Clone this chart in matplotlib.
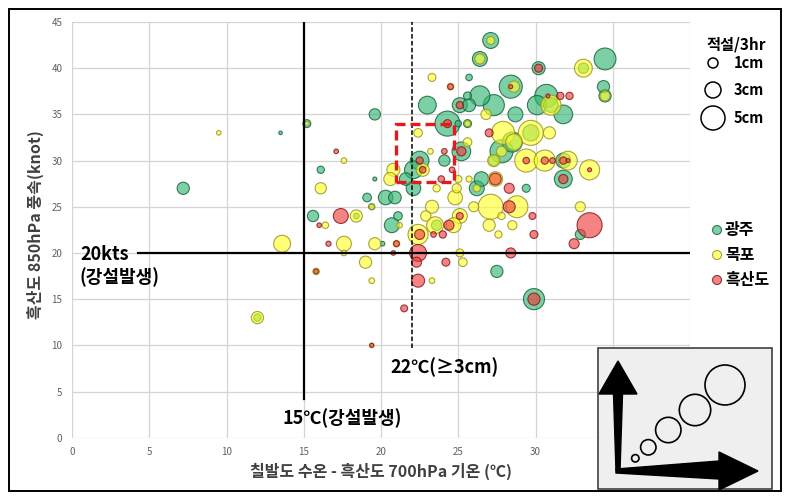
import matplotlib
matplotlib.use("Agg")
import matplotlib.pyplot as plt
from matplotlib.patches import Circle, Rectangle, Polygon
import numpy as np

plt.rcParams['font.family'] = ['Noto Sans CJK KR', 'DejaVu Sans']

# ---- data: (SST at Chilbaldo - T700 at Heuksando, 850hPa wind speed, 3-hr snowfall in cm)
gj_x = [7.2, 13.5, 15.2, 19.6, 16.1, 19.6, 19.1, 20.3, 20.9, 15.6, 21.1, 20.7, 20.1, 19.4, 12.0,
        27.1, 26.4, 25.7, 28.4, 23.0, 25.1, 25.7, 26.4, 27.3, 25.6, 28.7, 24.3, 25.0, 25.6, 28.5,
        25.2, 24.1, 27.8, 22.5, 22.1, 22.1, 34.5, 30.2, 34.4, 34.5, 30.7, 31.8, 30.1, 31.8, 31.8,
        29.4, 32.9, 29.9, 27.5, 26.5, 26.2, 29.7, 31.0, 27.3, 23.6, 18.4, 33.1, 21.6]
gj_y = [27, 33, 34, 35, 29, 28, 26, 26, 26, 24, 24, 23, 21, 25, 13,
        43, 41, 39, 38, 36, 36, 36, 37, 36, 37, 35, 34, 34, 34, 32,
        31, 30, 31, 30, 29, 27, 41, 40, 38, 37, 37, 35, 36, 30, 28,
        27, 22, 15, 18, 28, 27, 33, 36, 30, 23, 24, 40, 28]
gj_snow = [1.4, 0.12, 0.6, 1.2, 0.5, 0.15, 0.7, 2.0, 1.5, 1.2, 0.7, 2.1, 0.2, 0.35, 0.5,
           2.4, 2.1, 0.4, 5.0, 3.0, 2.1, 1.6, 3.8, 4.2, 0.6, 2.1, 5.9, 0.4, 0.6, 3.8,
           3.3, 1.2, 5.0, 3.3, 3.0, 2.0, 4.5, 1.6, 1.4, 1.4, 5.0, 3.3, 3.5, 2.1, 3.0,
           0.6, 0.95, 4.2, 1.4, 2.0, 2.1, 2.5, 2.0, 1.0, 1.0, 0.3, 1.0, 1.5]

mp_x = [9.5, 13.6, 12.0, 17.6, 16.1, 18.4, 16.4, 17.6, 17.6, 19.6, 21.0, 19.0, 15.8, 19.4, 19.4,
        21.2, 20.6, 20.8, 15.2, 22.4, 27.1, 26.4, 23.3, 24.5, 28.6, 26.8, 25.6, 22.4, 27.9, 28.6,
        23.2, 25.6, 27.8, 22.7, 33.1, 34.5, 31.0, 29.7, 30.9, 29.4, 30.6, 32.1, 33.5, 27.4, 25.0,
        25.7, 26.2, 27.1, 28.8, 26.0, 24.8, 24.9, 23.6, 23.3, 25.1, 22.9, 23.5, 24.7, 27.0, 27.8,
        28.5, 27.6, 25.1, 25.3, 23.3, 32.9, 19.4, 27.3]
mp_y = [33, 21, 13, 30, 27, 24, 23, 21, 20, 21, 21, 19, 18, 17, 25,
        23, 28, 29, 34, 22, 43, 41, 39, 38, 38, 35, 34, 33, 33, 32,
        31, 32, 31, 29, 40, 37, 36, 33, 33, 30, 30, 30, 29, 28, 28,
        28, 27, 25, 25, 25, 26, 27, 27, 25, 24, 24, 23, 23, 23, 24,
        23, 22, 20, 19, 17, 25, 10, 30]
mp_snow = [0.2, 2.7, 1.4, 0.3, 1.2, 1.4, 0.4, 2.1, 0.3, 1.4, 0.4, 1.4, 0.4, 0.3, 0.3,
           0.3, 1.6, 1.6, 0.2, 3.8, 0.6, 0.95, 0.6, 0.4, 1.2, 1.0, 0.35, 0.7, 5.0, 2.5,
           0.3, 0.7, 1.0, 1.6, 3.0, 0.95, 3.8, 5.9, 1.4, 5.0, 4.2, 3.3, 3.8, 2.0, 0.5,
           0.35, 0.5, 5.9, 4.5, 0.95, 2.0, 0.8, 0.5, 1.6, 2.1, 1.0, 2.7, 2.1, 1.4, 0.5,
           0.8, 0.5, 0.6, 0.7, 0.3, 0.95, 0.2, 1.4]

hs_x = [17.1, 17.4, 16.0, 16.6, 21.0, 20.8, 15.8, 19.4, 21.5, 22.4, 22.3, 22.4, 22.5, 24.5, 24.3,
        25.1, 28.4, 27.0, 25.2, 24.1, 22.5, 22.7, 30.2, 30.8, 31.6, 32.2, 29.4, 30.6, 31.1, 31.8,
        32.1, 33.5, 31.8, 27.4, 28.3, 28.3, 29.8, 29.9, 33.5, 32.5, 29.9, 28.4, 24.2, 24.4, 24.0,
        23.4, 23.9, 25.1, 24.6]
hs_y = [31, 24, 23, 21, 21, 20, 18, 10, 14, 20, 19, 17, 22, 38, 34,
        36, 38, 33, 31, 31, 30, 29, 40, 37, 37, 37, 30, 30, 30, 30,
        30, 29, 28, 28, 27, 25, 24, 22, 23, 21, 15, 20, 19, 23, 22,
        22, 28, 24, 29]
hs_snow = [0.2, 2.1, 0.2, 0.25, 0.3, 0.2, 0.2, 0.15, 0.45, 2.7, 0.95, 1.6, 0.95, 0.3, 0.6,
           0.5, 0.15, 0.6, 0.8, 0.3, 0.5, 0.4, 0.6, 0.15, 0.5, 0.5, 0.4, 0.5, 0.3, 0.5,
           0.15, 0.15, 0.8, 1.3, 0.95, 1.36, 0.45, 0.6, 5.9, 0.95, 1.4, 0.95, 0.6, 0.95, 0.5,
           0.3, 0.4, 0.45, 0.3]

x_ticks = [0, 5, 10, 15, 20, 25, 30, 35, 40]
y_ticks = [0, 5, 10, 15, 20, 25, 30, 35, 40, 45]
wind_threshold = 20        # kts
sst_threshold = 15         # deg C
heavy_threshold = 22       # deg C (>= 3 cm)

K = 55.0  # marker area (pt^2) per cm of snowfall

GREEN = (0.18, 0.70, 0.44, 0.62)
GREEN_E = (0.10, 0.40, 0.25, 0.85)
YELLOW = (1.00, 1.00, 0.15, 0.62)
YELLOW_E = (0.60, 0.58, 0.15, 0.85)
RED = (0.95, 0.22, 0.22, 0.62)
RED_E = (0.50, 0.12, 0.12, 0.85)

fig = plt.figure(figsize=(7.89, 4.97), dpi=100)
W, H = 789.0, 497.0
ax = fig.add_axes([72 / W, 1 - 437.7 / H, (690 - 72) / W, (437.7 - 22) / H])
ax.set_xlim(0, 40)
ax.set_ylim(0, 45)
ax.set_xticks(x_ticks)
ax.set_yticks(y_ticks)
ax.grid(color='#d4d4d4', lw=0.9, zorder=0)
ax.set_axisbelow(True)
for sp in ax.spines.values():
    sp.set_visible(False)
ax.tick_params(length=0, labelsize=7, colors='#606060', pad=7)


def bubbles(x, y, snow, face, edge):
    x = np.asarray(x); y = np.asarray(y); snow = np.asarray(snow)
    order = np.argsort(snow)[::-1]
    ax.scatter(x[order], y[order], s=K * snow[order], facecolor=face,
               edgecolor=edge, linewidth=0.8, zorder=3, clip_on=False)


bubbles(gj_x, gj_y, gj_snow, GREEN, GREEN_E)
bubbles(mp_x, mp_y, mp_snow, YELLOW, YELLOW_E)
bubbles(hs_x, hs_y, hs_snow, RED, RED_E)

# threshold lines
ax.plot([sst_threshold, sst_threshold], [4.2, 45], color='black', lw=1.6, zorder=4)
ax.plot([4.3, 40], [wind_threshold, wind_threshold], color='black', lw=1.6, zorder=4)
ax.plot([heavy_threshold, heavy_threshold], [9.7, 45], color='black', lw=1.1,
        linestyle=(0, (3, 1.5)), zorder=4)
ax.add_patch(Rectangle((21.0, 27.7), 3.7, 6.3, fill=False, edgecolor='#E41A1C',
                       lw=2.4, linestyle=(0, (3, 1.5)), zorder=5))

# overlay in pixel coordinates for labels, legend and schematic
ov = fig.add_axes([0, 0, 1, 1], zorder=10)
ov.set_xlim(0, W)
ov.set_ylim(H, 0)
ov.axis('off')
ov.patch.set_alpha(0)

ov.add_patch(Rectangle((9, 9), 772, 482, fill=False, edgecolor='black', lw=1.4))

ov.text(381, 471, '칠발도 수온 - 흑산도 700hPa 기온 (℃)', ha='center', va='center',
        fontsize=11.5, fontweight='bold', color='#404040')
ov.text(35, 225, '흑산도 850hPa 풍속(knot)', ha='center', va='center', rotation=90,
        fontsize=11.5, fontweight='bold', color='#404040')

ov.text(80, 255, '20kts', ha='left', va='center', fontsize=13, fontweight='bold')
ov.text(80, 277, '(강설발생)', ha='left', va='center', fontsize=13, fontweight='bold')
ov.text(283, 418, '15℃(강설발생)', ha='left', va='center', fontsize=13, fontweight='bold')
ov.text(390, 367, '22℃(≥3cm)', ha='left', va='center', fontsize=13, fontweight='bold')

# size legend
ov.text(736, 44, '적설/3hr', ha='center', va='center', fontsize=11, fontweight='bold')
for cy, r, lab in [(63, 5, '1cm'), (90, 8, '3cm'), (118, 12, '5cm')]:
    ov.add_patch(Circle((713, cy), r, fill=False, edgecolor='black', lw=1.1))
    ov.text(734, cy, lab, ha='left', va='center', fontsize=10.5, fontweight='bold')

# station legend
for cy, fc, ec, lab in [(230, GREEN, GREEN_E, '광주'), (255, YELLOW, YELLOW_E, '목포'),
                        (280, RED, RED_E, '흑산도')]:
    ov.add_patch(Circle((717, cy), 4.5, facecolor=fc, edgecolor=ec, lw=0.8))
    ov.text(725, cy, lab, ha='left', va='center', fontsize=11.5, fontweight='bold')

# schematic inset
ov.add_patch(Rectangle((598, 348), 174, 141, facecolor='#efefef', edgecolor='#404040', lw=1.2))
ov.add_patch(Polygon([(616, 471), (620, 471), (622.5, 394), (637, 394), (618, 361),
                      (599, 394), (613.5, 394)], closed=True, facecolor='black', edgecolor='black'))
ov.add_patch(Polygon([(616, 469), (719, 461), (719, 452), (758, 471), (719, 490),
                      (719, 479), (616, 473)], closed=True, facecolor='black', edgecolor='black'))
for cx, cy, r in [(635.3, 458.3, 3.7), (648.3, 447.3, 7.7), (668.3, 430, 12.7),
                  (695, 410, 15.7), (725, 385, 20)]:
    ov.add_patch(Circle((cx, cy), r, fill=False, edgecolor='black', lw=1.2))

fig.savefig('out.png', dpi=100, facecolor='white')
